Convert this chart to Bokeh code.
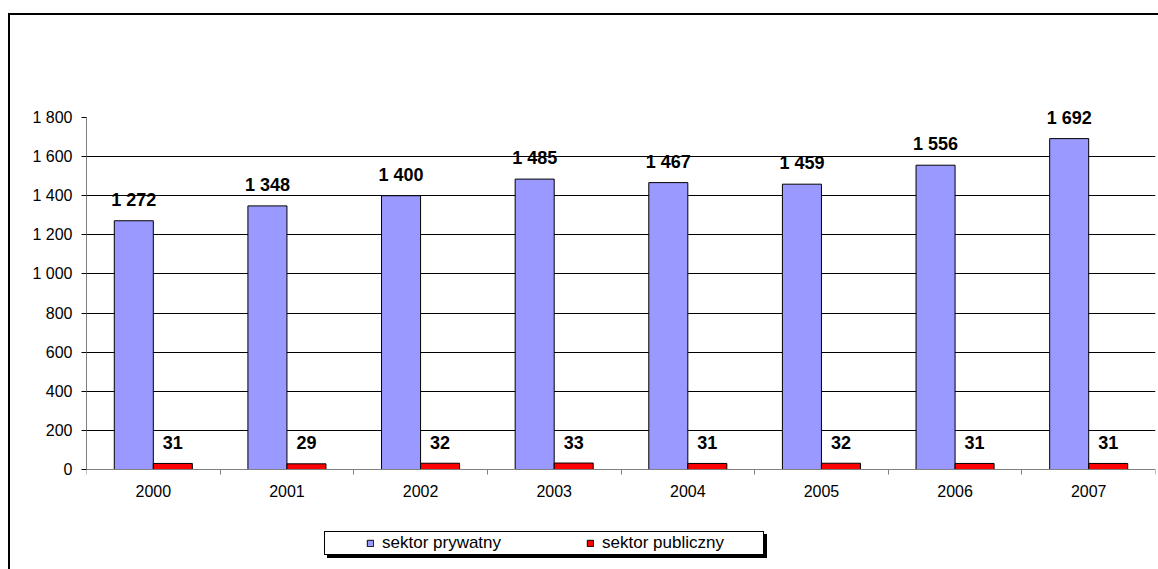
from bokeh.plotting import figure
from bokeh.models import Range1d, FixedTicker, ColumnDataSource, Legend, LegendItem
from bokeh.core.properties import value
from bokeh.embed import file_html
from bokeh.resources import INLINE

years = ["2000", "2001", "2002", "2003", "2004", "2005", "2006", "2007"]
private = [1272, 1348, 1400, 1485, 1467, 1459, 1556, 1692]
public = [31, 29, 32, 33, 31, 32, 31, 31]
y_ticks = [0, 200, 400, 600, 800, 1000, 1200, 1400, 1600, 1800]
series_names = ["sektor prywatny", "sektor publiczny"]
colors = ["#9999FF", "#FF0000"]

FONT = "Liberation Sans"
BAR_W = 0.292

# layout (pixels)
W, H = 1158, 569
LEFT, FRAME_TOP, BOTTOM_GAP = 86, 20, 5
MAX_PX, ZERO_PX = 117, 469          # pixel rows of the 1 800 and 0 ticks
Y_MAX = 1800
per_px = Y_MAX / (ZERO_PX - MAX_PX)
frame_bottom = H - BOTTOM_GAP
y_min = -(frame_bottom - ZERO_PX) * per_px
y_top = Y_MAX + (MAX_PX - FRAME_TOP) * per_px


def fmt(v):
    return "{:,}".format(v).replace(",", " ")


idx = list(range(len(years)))
src_priv = ColumnDataSource(dict(x=[i + 0.5 - BAR_W / 2 for i in idx], top=private,
                                 label=[fmt(v) for v in private]))
src_pub = ColumnDataSource(dict(x=[i + 0.5 + BAR_W / 2 for i in idx], top=public,
                                label=[fmt(v) for v in public]))

# outer chart border, legend box and its shadow drawn as CSS backgrounds
# behind a transparent canvas (first layer is on top)
bg = ", ".join([
    "linear-gradient(#fff,#fff) 325px 532px / 438px 22px no-repeat",   # legend interior
    "linear-gradient(#000,#000) 324px 531px / 440px 24px no-repeat",   # legend border
    "linear-gradient(#000,#000) 327px 534px / 440px 24px no-repeat",   # legend shadow
    "linear-gradient(#000,#000) 8px 13px / 2px 560px no-repeat",       # chart border left
    "linear-gradient(#000,#000) 8px 13px / 1160px 2px no-repeat",      # chart border top
])

p = figure(width=W, height=H, output_backend="svg", toolbar_location=None,
           x_range=Range1d(0, len(years)), y_range=Range1d(y_min, y_top),
           min_border_left=LEFT, min_border_right=3, min_border_top=FRAME_TOP,
           min_border_bottom=BOTTOM_GAP, styles={"background": bg})
p.outline_line_color = None
p.background_fill_color = None
p.border_fill_color = None

r1 = p.vbar(x="x", top="top", width=BAR_W, bottom=0, source=src_priv,
            fill_color=colors[0], line_color="black", line_width=1)
r2 = p.vbar(x="x", top="top", width=BAR_W, bottom=0, source=src_pub,
            fill_color=colors[1], line_color="black", line_width=1)

for s in (src_priv, src_pub):
    p.text(x="x", y="top", text="label", source=s, text_align="center",
           text_baseline="alphabetic", y_offset=-21,
           text_font=value(FONT), text_font_size="18px", text_font_style="bold",
           text_color="black")

# y axis
p.yaxis.ticker = FixedTicker(ticks=y_ticks)
p.yaxis.bounds = (0, Y_MAX)
p.yaxis.major_label_overrides = {t: fmt(t) for t in y_ticks}
p.yaxis.axis_line_color = "#808080"
p.yaxis.major_tick_line_color = "black"
p.yaxis.major_tick_out = 5
p.yaxis.major_tick_in = 0
p.yaxis.minor_tick_line_color = None
p.yaxis.major_label_standoff = 9
p.yaxis.major_label_text_font = FONT
p.yaxis.major_label_text_font_size = "16px"
p.yaxis.major_label_text_color = "black"

# x axis at y = 0: labels at centers, ticks at boundaries
centers = [i + 0.5 for i in idx]
p.xaxis.fixed_location = 0
p.xaxis.ticker = FixedTicker(ticks=centers, minor_ticks=list(range(len(years) + 1)))
p.xaxis.major_label_overrides = {c: y for c, y in zip(centers, years)}
p.xaxis.major_tick_line_color = None
p.xaxis.major_tick_out = 0
p.xaxis.major_tick_in = 0
p.xaxis.minor_tick_line_color = "#808080"
p.xaxis.minor_tick_out = 5
p.xaxis.minor_tick_in = 0
p.xaxis.axis_line_color = "#808080"
p.xaxis.major_label_standoff = 10
p.xaxis.major_label_text_font = FONT
p.xaxis.major_label_text_font_size = "16px"
p.xaxis.major_label_text_color = "black"

p.xgrid.grid_line_color = None
p.ygrid.ticker = FixedTicker(ticks=y_ticks[1:-1])
p.ygrid.grid_line_color = "black"
p.ygrid.grid_line_width = 1

legend = Legend(items=[LegendItem(label=series_names[0], renderers=[r1]),
                       LegendItem(label=series_names[1], renderers=[r2])],
                location=(366 - LEFT, frame_bottom - 553), orientation="horizontal",
                glyph_width=8, glyph_height=8, label_standoff=8,
                padding=0, spacing=85, margin=0,
                label_text_font=FONT, label_text_font_size="17px",
                label_height=20, label_text_color="black",
                border_line_color=None, background_fill_alpha=0.0)
p.add_layout(legend)

open("out.html", "w").write(file_html(p, INLINE))
